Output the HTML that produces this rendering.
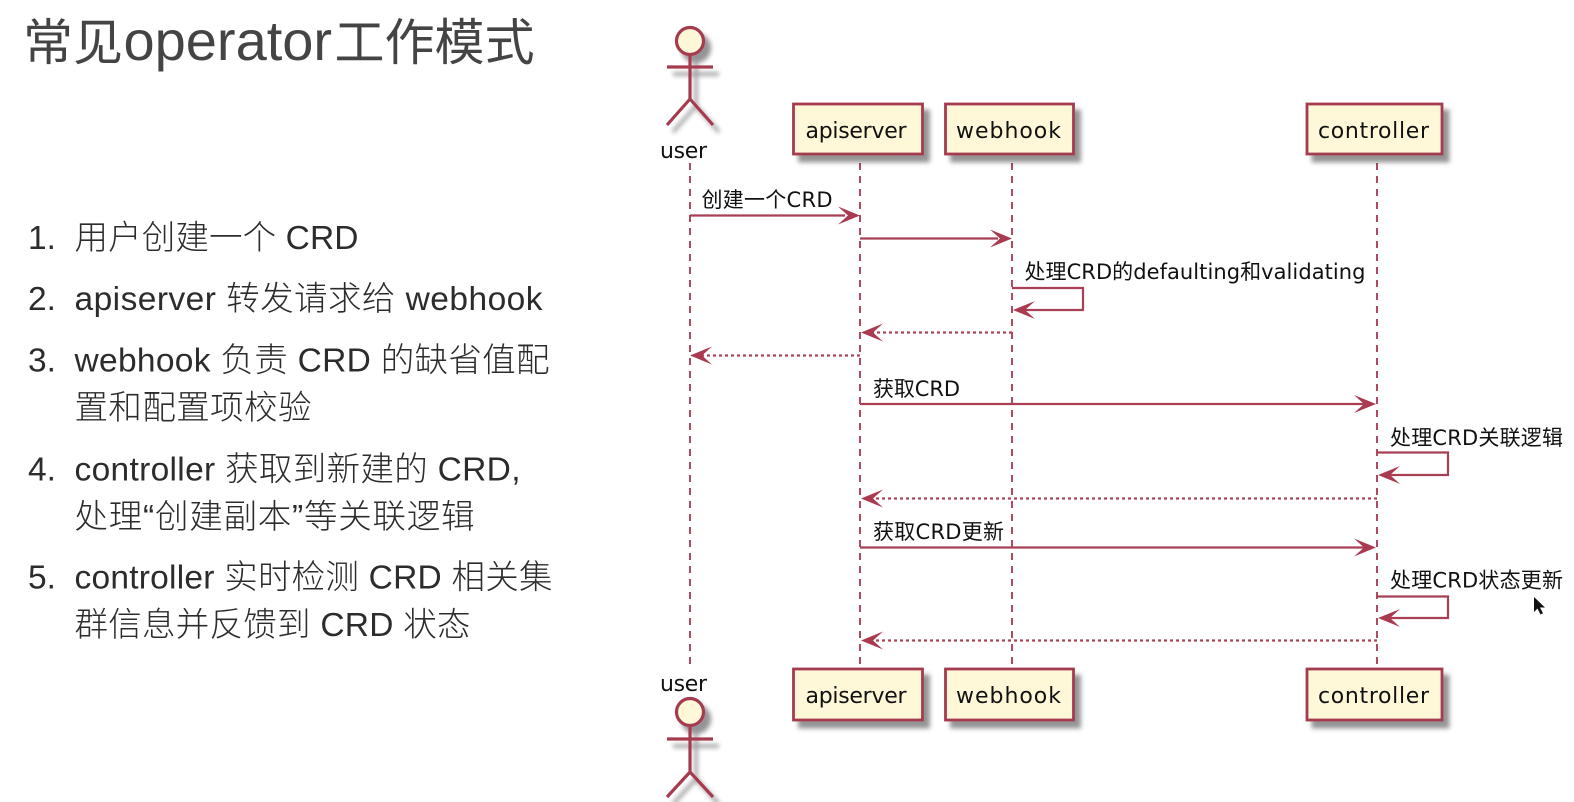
<!DOCTYPE html>
<html><head><meta charset="utf-8"><style>
html,body{margin:0;padding:0;background:#fff;width:1574px;height:802px;overflow:hidden}
svg{display:block;filter:blur(.35px)}
.t{font-family:"Liberation Sans","Noto Sans CJK SC",sans-serif;font-weight:300;fill:#2c2c2c}
.h{font-family:"Liberation Sans","Noto Sans CJK SC",sans-serif;font-weight:400;fill:#444}
.d{font-family:"DejaVu Sans","Noto Sans CJK SC",sans-serif;fill:#111}
.l{stroke:#a93f55;stroke-width:2.2;fill:none}
.b{fill:#fff8d8;stroke:#a53a50;stroke-width:2.8}
.ac{stroke:#a53a50;stroke-width:3.2;fill:none}
.ar{fill:#a93a50}
.dot{stroke:#ad4459;stroke-width:2.2;stroke-dasharray:3 3;fill:none}
.life{stroke:#b04a60;stroke-width:2;stroke-dasharray:7 6;fill:none}
</style></head><body>
<svg width="1574" height="802" viewBox="0 0 1574 802" xmlns="http://www.w3.org/2000/svg">
<defs><filter id="s" x="-30%" y="-30%" width="170%" height="170%"><feDropShadow dx="6" dy="7" stdDeviation="2.5" flood-color="#000" flood-opacity=".42"/></filter></defs>

<text class="h" y="60" font-size="50"><tspan x="23">常见</tspan><tspan x="123.500" font-size="56">operator</tspan><tspan x="334.500">工作模式</tspan></text>
<g font-size="33.5">
<text class="t" x="28" y="249">1.</text><text class="t" x="74.5" y="249" textLength="284">用户创建一个 CRD</text>
<text class="t" x="28" y="310">2.</text><text class="t" x="74.5" y="310" textLength="468">apiserver 转发请求给 webhook</text>
<text class="t" x="28" y="371.500">3.</text><text class="t" x="74.5" y="371.500" textLength="475">webhook 负责 CRD 的缺省值配</text>
<text class="t" x="74.5" y="419" textLength="237">置和配置项校验</text>
<text class="t" x="28" y="480.500">4.</text><text class="t" x="74.5" y="480.500" textLength="446">controller 获取到新建的 CRD,</text>
<text class="t" x="74.5" y="528" textLength="400">处理“创建副本”等关联逻辑</text>
<text class="t" x="28" y="588.500">5.</text><text class="t" x="74.5" y="588.500" textLength="478">controller 实时检测 CRD 相关集</text>
<text class="t" x="74.5" y="636" textLength="396">群信息并反馈到 CRD 状态</text>
</g>

<path class="life" d="M690 163V670M860 163V668M1012 163V668M1377 163V668"/>

<g filter="url(#s)">
<circle cx="690" cy="41" r="13.5" fill="#fff8d8" stroke="#a53a50" stroke-width="3.2"/>
<path class="ac" d="M690 55V99M667 67H713M690 99L667 125M690 99L713 125"/>
</g>
<g filter="url(#s)">
<circle cx="690" cy="712" r="13.5" fill="#fff8d8" stroke="#a53a50" stroke-width="3.2"/>
<path class="ac" d="M690 726V772M667 739H713M690 772L667 797M690 772L713 797"/>
</g>
<g filter="url(#s)">
<rect class="b" x="793.5" y="104" width="129" height="50"/>
<rect class="b" x="945.5" y="104" width="128" height="50"/>
<rect class="b" x="1307" y="104" width="135" height="50"/>
<rect class="b" x="793.5" y="669" width="129" height="51"/>
<rect class="b" x="945.5" y="669" width="128" height="51"/>
<rect class="b" x="1307" y="669" width="135" height="51"/>
</g>

<g font-size="22">
<text class="d" x="660" y="158" textLength="47">user</text>
<text class="d" x="805.500" y="138" textLength="101">apiserver</text>
<text class="d" x="956" y="138" textLength="105">webhook</text>
<text class="d" x="1318" y="138" textLength="111">controller</text>
<text class="d" x="660" y="691" textLength="47">user</text>
<text class="d" x="805.500" y="703" textLength="101">apiserver</text>
<text class="d" x="956" y="703" textLength="105">webhook</text>
<text class="d" x="1318" y="703" textLength="111">controller</text>
</g>

<path class="l" d="M690 215.500H845M860 238.500H998M1012 288H1083V310H1025M860 404H1365M1377 452.500H1448V475H1390M860 547.500H1365M1377 596.500H1448V618H1390"/>
<path class="dot" d="M1012 332.500H872M860 355.500H702M1377 498.500H872M1377 640.500H872"/>

<g class="ar">
<path d="M860 215.500l-22-9 10 9-10 9z"/>
<path d="M1012 238.500l-22-9 10 9-10 9z"/>
<path d="M1013 310l22-9-10 9 10 9z"/>
<path d="M861 332.500l22-9-10 9 10 9z"/>
<path d="M690 355.500l22-9-10 9 10 9z"/>
<path d="M1376 404l-22-9 10 9-10 9z"/>
<path d="M1378 475l22-9-10 9 10 9z"/>
<path d="M861 498.500l22-9-10 9 10 9z"/>
<path d="M1376 547.500l-22-9 10 9-10 9z"/>
<path d="M1378 618l22-9-10 9 10 9z"/>
<path d="M861 640.500l22-9-10 9 10 9z"/>
</g>

<g font-size="21">
<text class="d" x="701.500" y="207" textLength="131">创建一个CRD</text>
<text class="d" x="1024.500" y="279" textLength="341">处理CRD的defaulting和validating</text>
<text class="d" x="873" y="396" textLength="87">获取CRD</text>
<text class="d" x="1390" y="445" textLength="173">处理CRD关联逻辑</text>
<text class="d" x="873" y="539" textLength="131">获取CRD更新</text>
<text class="d" x="1390" y="587.500" textLength="173">处理CRD状态更新</text>
</g>

<path d="M1534 597v15l3.500-3.500 3 6 2.500-1.200-3-5.800h5z" fill="#111"/>
</svg>
</body></html>
